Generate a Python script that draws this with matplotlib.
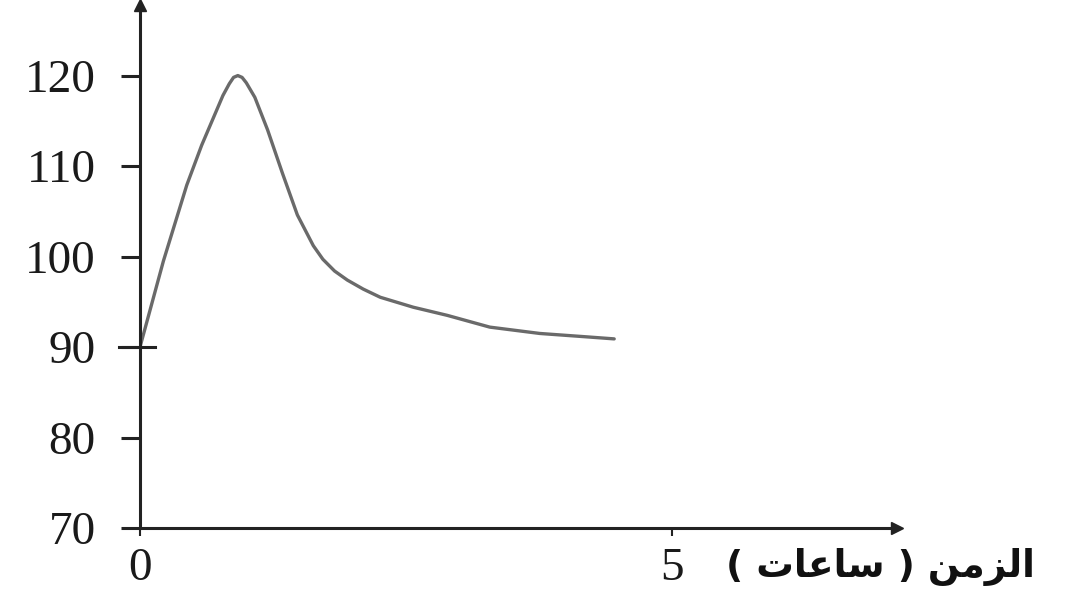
import matplotlib.pyplot as plt

# time (hours) and value
hours = [0.0, 0.22, 0.44, 0.58, 0.70, 0.78, 0.84, 0.88, 0.92, 0.96, 1.00,
         1.08, 1.20, 1.34, 1.48, 1.63, 1.72, 1.83, 1.95, 2.10, 2.26, 2.57,
         2.89, 3.29, 3.76, 4.23, 4.46]
values = [90.0, 99.5, 107.9, 112.3, 115.6, 117.8, 119.1, 119.8, 120.0, 119.8,
          119.2, 117.6, 114.0, 109.2, 104.6, 101.2, 99.7, 98.4, 97.4, 96.4,
          95.5, 94.4, 93.5, 92.2, 91.5, 91.1, 90.9]

y_ticks = [70, 80, 90, 100, 110, 120]
x_ticks = [0, 5]

# Arabic label "الزمن ( ساعات )" written in presentation forms, visual order
zaman = "\uFEE6\uFEE3\uFEB0\uFEDF\uFE8D"
saat = "\uFE95\uFE8E\uFECB\uFE8E\uFEB3"
x_label = "( " + saat + " ) " + zaman

fig = plt.figure(figsize=(10.66, 6.02), dpi=100)
ax = fig.add_axes([140 / 1066, 74 / 602, 757 / 1066, 523 / 602])

ax.plot(hours, values, color="#6a6a6a", lw=2.4, solid_capstyle="round",
        solid_joinstyle="round")

ax.set_xlim(0, 7.12)
ax.set_ylim(70, 127.8)

# axes as arrows
for side in ["top", "right"]:
    ax.spines[side].set_visible(False)
for side in ["left", "bottom"]:
    ax.spines[side].set_linewidth(2.2)
    ax.spines[side].set_color("#222222")
ax.plot(1, 0, ">", color="#222222", ms=9, transform=ax.transAxes, clip_on=False)
ax.plot(0, 1, "^", color="#222222", ms=9, transform=ax.transAxes, clip_on=False)

ax.set_yticks(y_ticks)
ax.set_xticks(x_ticks)
ax.tick_params(axis="y", direction="out", length=14, width=2.2, pad=18,
               color="#222222")
ax.tick_params(axis="x", direction="out", length=6, width=1.5, pad=8,
               color="#222222")
for lab in ax.get_yticklabels() + ax.get_xticklabels():
    lab.set_fontfamily("Liberation Serif")
    lab.set_fontsize(34)
    lab.set_color("#1a1a1a")

# the 90 tick crosses the axis
ax.plot([-0.2, 0.14], [90, 90], color="#222222", lw=2.2, clip_on=False)

fig.text(1035 / 1066, 1 - 567 / 602, x_label, ha="right", va="center",
         fontsize=27, fontweight="bold", family="DejaVu Sans", color="#111111")

plt.savefig("out.png", dpi=100)
